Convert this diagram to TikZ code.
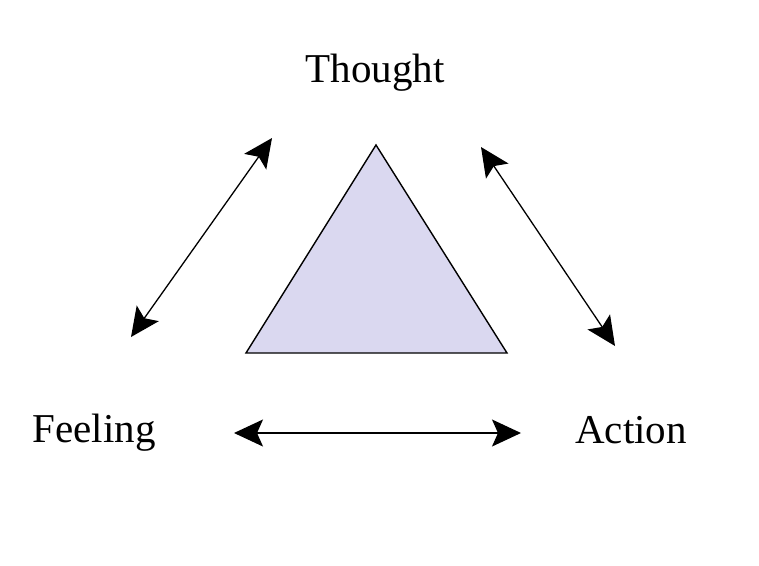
\documentclass[tikz,border=0pt]{standalone}
\usepackage{fontspec}
\setmainfont{Liberation Serif}
\usetikzlibrary{arrows.meta}
\definecolor{trifill}{RGB}{218,216,240}
\tikzset{
  lbl/.style={font=\fontsize{41}{45}\selectfont, anchor=base, inner sep=0pt},
  dbl/.style={{Stealth[length=29pt,width=27pt,inset=6pt]}-{Stealth[length=29pt,width=27pt,inset=6pt]}, line width=1.3pt},
  tri/.style={draw=black, fill=trifill, line width=1.4pt, line join=miter}
}
\begin{document}
\begin{tikzpicture}[x=1pt,y=-1pt]
\useasboundingbox (0,0) rectangle (759,565);
\fill[white] (0,0) rectangle (759,565);
\node[lbl] (thought) at (375,82) {Thought};
\node[lbl] (feeling) at (94,442) {Feeling};
\node[lbl] (action) at (631,443) {Action};
\coordinate (apex) at (376,145);
\coordinate (bl) at (246,353);
\coordinate (br) at (507,353);
\draw[tri] (apex) -- (bl) -- (br) -- cycle;
\coordinate (l1) at (131,337);
\coordinate (l2) at (272,138);
\coordinate (r1) at (481,147);
\coordinate (r2) at (615,346);
\coordinate (b1) at (234,433);
\coordinate (b2) at (521,433);
\draw[dbl] (l1) -- (l2);
\draw[dbl] (r1) -- (r2);
\draw[dbl] (b1) -- (b2);
\end{tikzpicture}
\end{document}
